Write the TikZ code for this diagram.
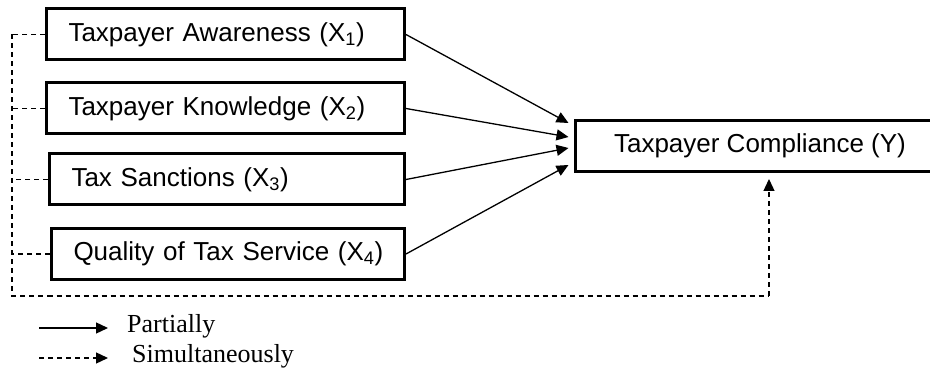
\documentclass[tikz,border=0pt]{standalone}
\usepackage{fontspec}
\setmainfont{Liberation Sans}
\newfontfamily\legfont{Liberation Serif}
\usetikzlibrary{arrows.meta}
\begin{document}
\begin{tikzpicture}[x=1pt,y=-1pt,
  box/.style={draw, line width=3pt, minimum height=51pt, inner xsep=22pt, align=left, anchor=west, font=\fontsize{26}{30}\selectfont},
  tip/.style={-{Triangle[length=12pt,width=11pt]}},
  conn/.style={line width=1.3pt, tip},
  dsh/.style={line width=1.3pt, dash pattern=on 5pt off 4pt},
  leg/.style={anchor=west, font=\legfont\fontsize{26}{30}\selectfont, inner sep=0pt}]
\useasboundingbox (0,0) rectangle (930,374);
\node[box, text width=314pt] (x1) at (45,34.5) {\mbox{Taxpayer Awareness (X\textsubscript{1})}};
\node[box, text width=314pt] (x2) at (45,108.5) {\mbox{Taxpayer Knowledge (X\textsubscript{2})}};
\node[box, text width=311pt] (x3) at (48,179.5) {\mbox{Tax Sanctions (X\textsubscript{3})}};
\node[box, text width=309pt] (x4) at (50,254) {\mbox{Quality of Tax Service (X\textsubscript{4})}};
\node[box, anchor=center, align=center, minimum width=370pt] (yb) at (760,146) {Taxpayer Compliance (Y)};
\draw[conn] (x1.east) -- ([xshift=-5pt,yshift=23pt]yb.west);
\draw[conn] (x2.east) -- ([xshift=-5pt,yshift=9pt]yb.west);
\draw[conn] (x3.east) -- ([xshift=-5pt,yshift=-2pt]yb.west);
\draw[conn] (x4.east) -- ([xshift=-5pt,yshift=-19pt]yb.west);
\coordinate (tl) at (12,34.5);
\coordinate (bl) at (12,296);
\coordinate (br) at (769,296);
\coordinate (yt) at (769,179);
\draw[dsh] (tl) -- (bl) -- (br);
\draw[dsh, tip] (br) -- (yt);
\draw[dsh] (x1.west) -- (tl);
\draw[dsh] (x2.west) -- (x2.west -| tl);
\draw[dsh] (x3.west) -- (x3.west -| tl);
\draw[dsh] (x4.west) -- (x4.west -| tl);
\coordinate (l1a) at (39,328);
\coordinate (l1b) at (108,328);
\coordinate (l2a) at (39,358);
\coordinate (l2b) at (108,358);
\draw[conn] (l1a) -- (l1b);
\draw[dsh, tip] (l2a) -- (l2b);
\node[leg] (p) at (127,326) {Partially};
\node[leg] (s) at (132,356) {Simultaneously};
\end{tikzpicture}
\end{document}
